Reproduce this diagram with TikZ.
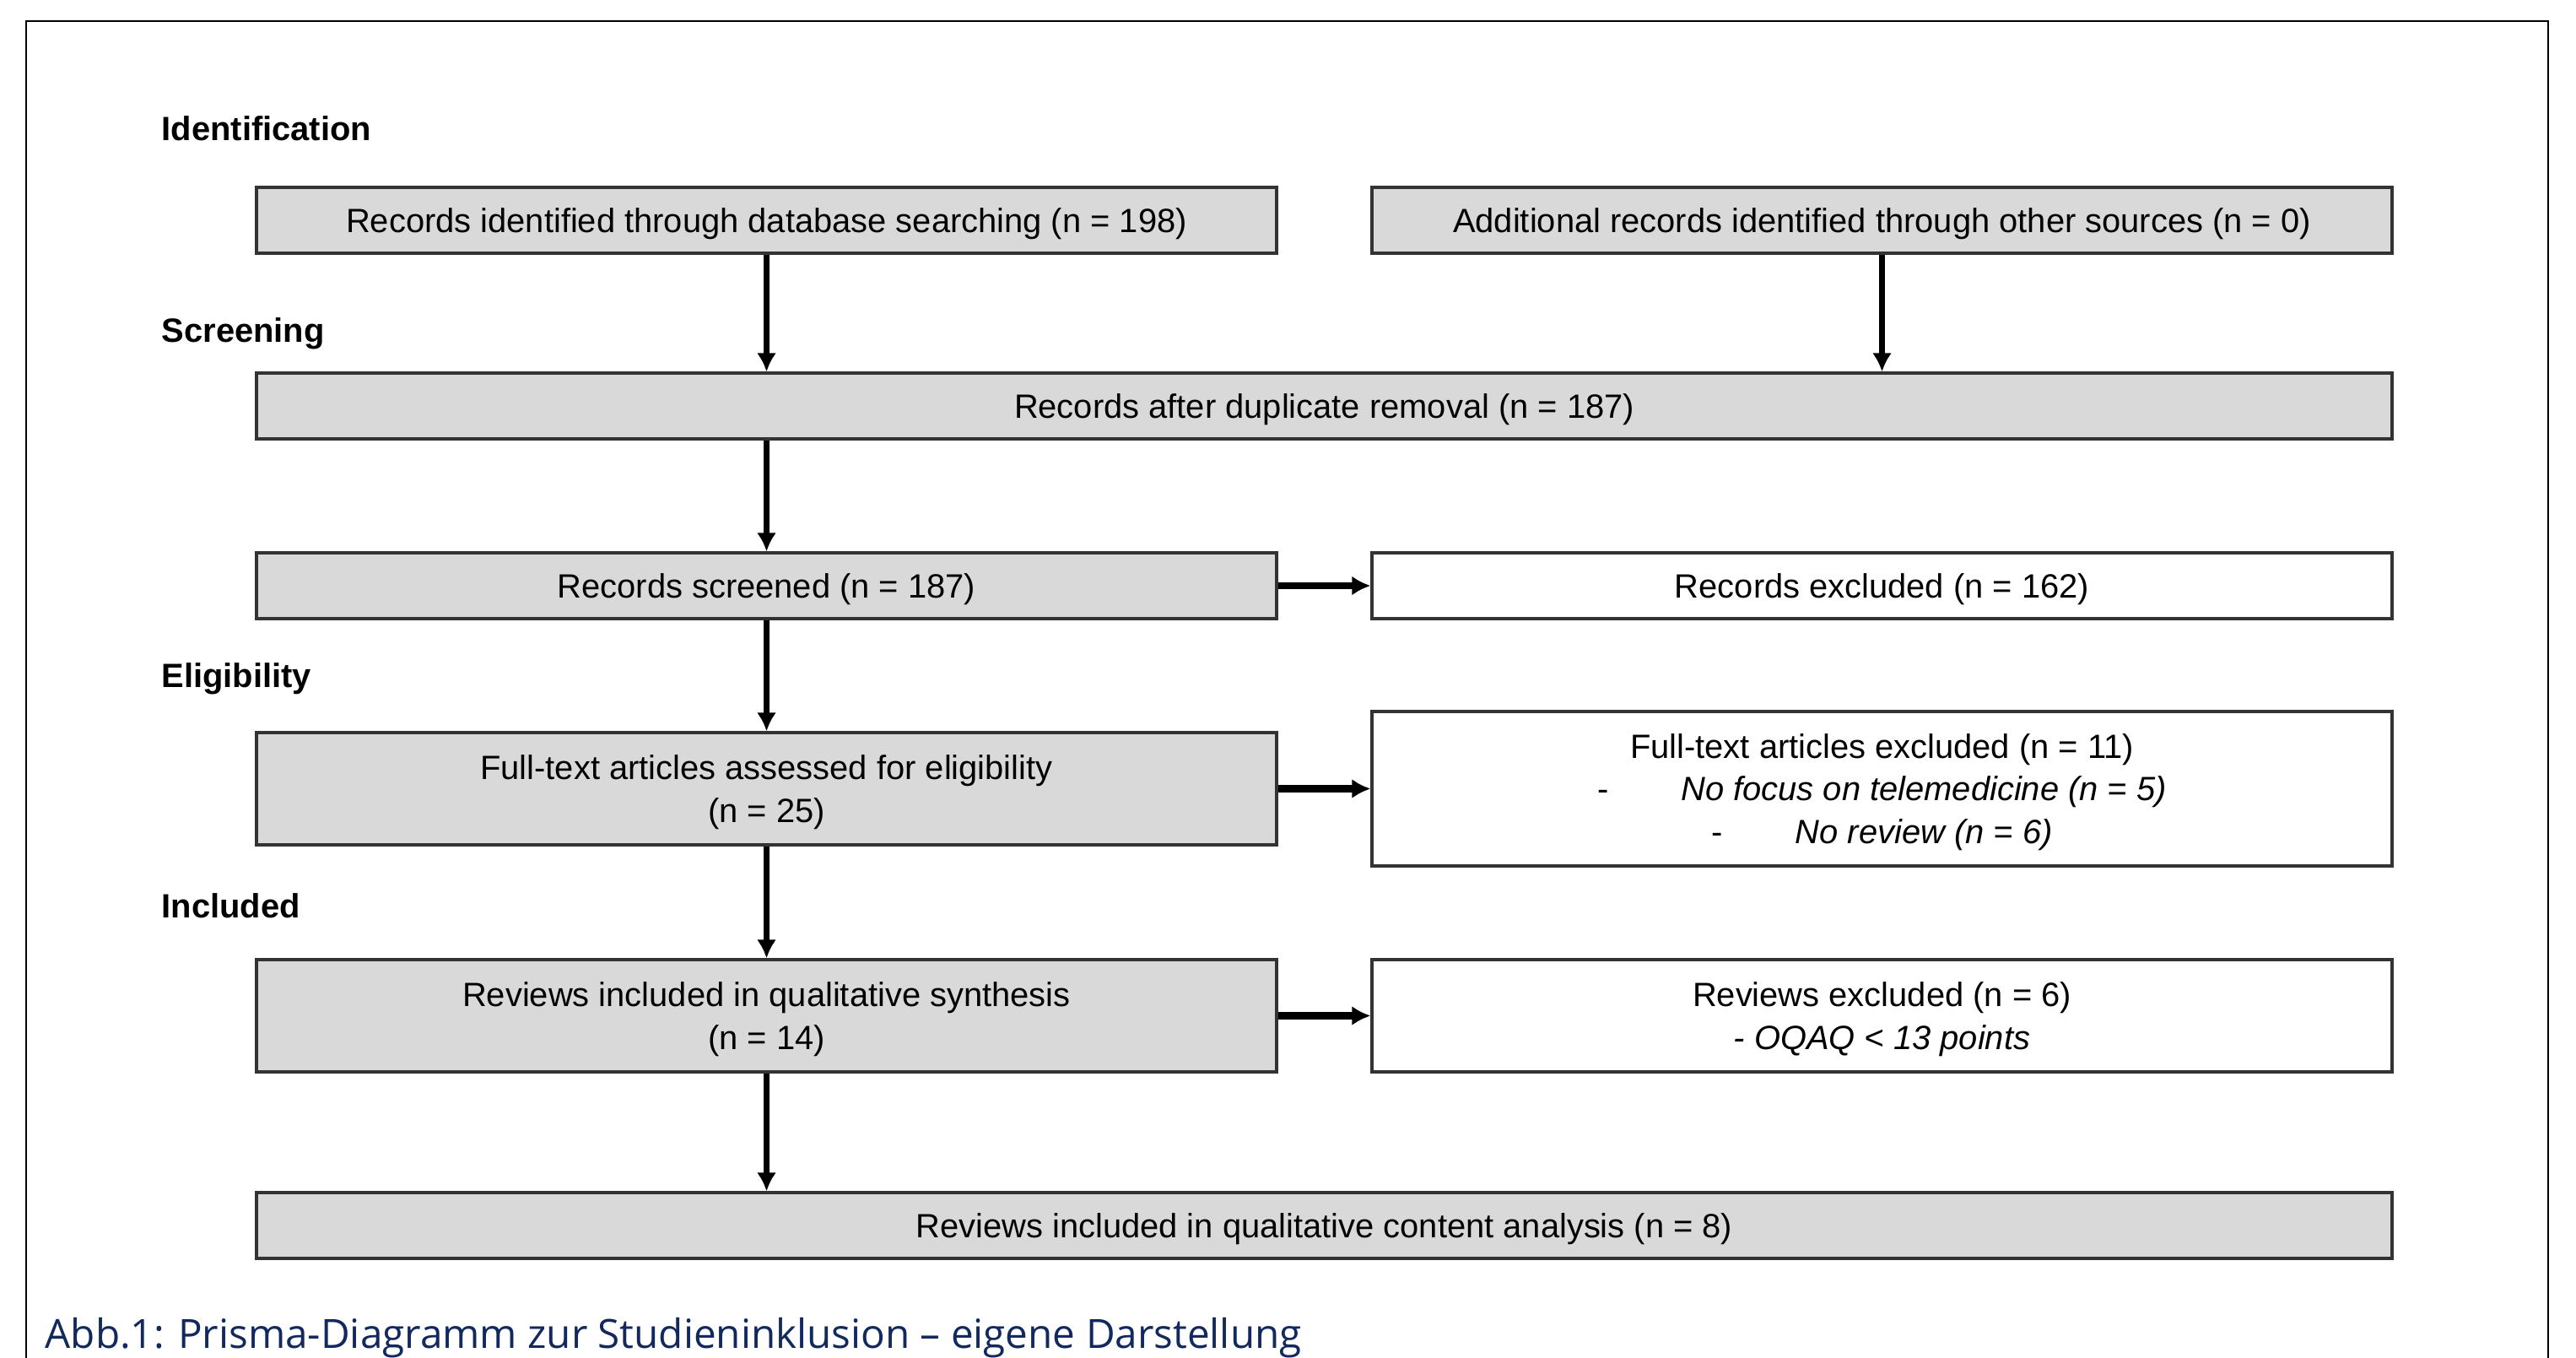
\documentclass[tikz,border=0pt]{standalone}
\usepackage{fontspec}
\setmainfont{Liberation Sans}
\newfontfamily\captionfont{Open Sans}
\usetikzlibrary{arrows.meta}
\definecolor{boxgray}{HTML}{D9D9D9}
\definecolor{linegray}{HTML}{333333}
\definecolor{capblue}{HTML}{12295E}

\begin{document}
\begin{tikzpicture}[main/.style = {draw=linegray, line width=0.9pt, fill=boxgray, inner sep=0pt, align=center, text depth=0pt, font=\fontsize{11.35}{14.4}\selectfont},
        excl/.style = {main, fill=white},
        phase/.style = {anchor=west, inner sep=0pt, font=\fontsize{11.35}{14.4}\selectfont\bfseries},
        down/.style = {line width=1.8pt, -{Latex[length=2.2mm,width=2.3mm]}},
        side/.style = {line width=2.3pt, -{Latex[length=2.2mm,width=2.3mm]}}]
        \useasboundingbox (0,0) rectangle (30.53,-16.09);
        \draw[line width=0.6pt] (0.31,-16.09) -- (0.31,-0.25) -- (30.20,-0.25) -- (30.20,-16.09);

        \node[phase] (p1) at (1.91,-1.52) {Identification};
        \node[phase] (p2) at (1.91,-3.95) {Screening};
        \node[phase] (p3) at (1.91,-8.04) {Eligibility};
        \node[phase] (p4) at (1.91,-10.73) {Included};

        \node[main,minimum width=12.09cm,minimum height=0.78cm] (1) at (9.085,-2.61) {Records identified through database searching (n = 198)};
        \node[main,minimum width=12.09cm,minimum height=0.78cm] (2) at (22.305,-2.61) {Additional records identified through other sources (n = 0)};
        \node[main,minimum width=25.31cm,minimum height=0.78cm] (3) at (15.695,-4.81) {Records after duplicate removal (n = 187)};
        \node[main,minimum width=12.09cm,minimum height=0.78cm] (4) at (9.085,-6.94) {Records screened (n = 187)};
        \node[excl,minimum width=12.09cm,minimum height=0.78cm] (5) at (22.305,-6.94) {Records excluded (n = 162)};
        \node[main,minimum width=12.09cm,minimum height=1.33cm] (6) at (9.085,-9.345) {Full-text articles assessed for eligibility\\(n = 25)};
        \node[excl,minimum width=12.09cm,minimum height=1.83cm] (7) at (22.305,-9.345) {Full-text articles excluded (n = 11)\\-\hspace{0.86cm}\textit{No focus on telemedicine (n = 5)}\\-\hspace{0.86cm}\textit{No review (n = 6)}};
        \node[main,minimum width=12.09cm,minimum height=1.33cm] (8) at (9.085,-12.035) {Reviews included in qualitative synthesis\\(n = 14)};
        \node[excl,minimum width=12.09cm,minimum height=1.33cm] (9) at (22.305,-12.035) {Reviews excluded (n = 6)\\\textit{- OQAQ < 13 points}};
        \node[main,minimum width=25.31cm,minimum height=0.78cm] (10) at (15.695,-14.52) {Reviews included in qualitative content analysis (n = 8)};

        \node[anchor=base west, inner sep=0pt, text=capblue, font=\captionfont\fontsize{13.55}{16}\selectfont] (11) at (0.53,-15.97) {Abb.1: Prisma-Diagramm zur Studieninklusion – eigene Darstellung};

        \draw[down] (1) -- (1 |- 3.north);
        \draw[down] (2) -- (2 |- 3.north);
        \draw[down] (4 |- 3.south) -- (4);
        \draw[down] (4) -- (6);
        \draw[down] (6) -- (8);
        \draw[down] (8) -- (8 |- 10.north);

        \draw[side] (4) -- (5);
        \draw[side] (6) -- (7);
        \draw[side] (8) -- (9);
    \end{tikzpicture}
\end{document}
